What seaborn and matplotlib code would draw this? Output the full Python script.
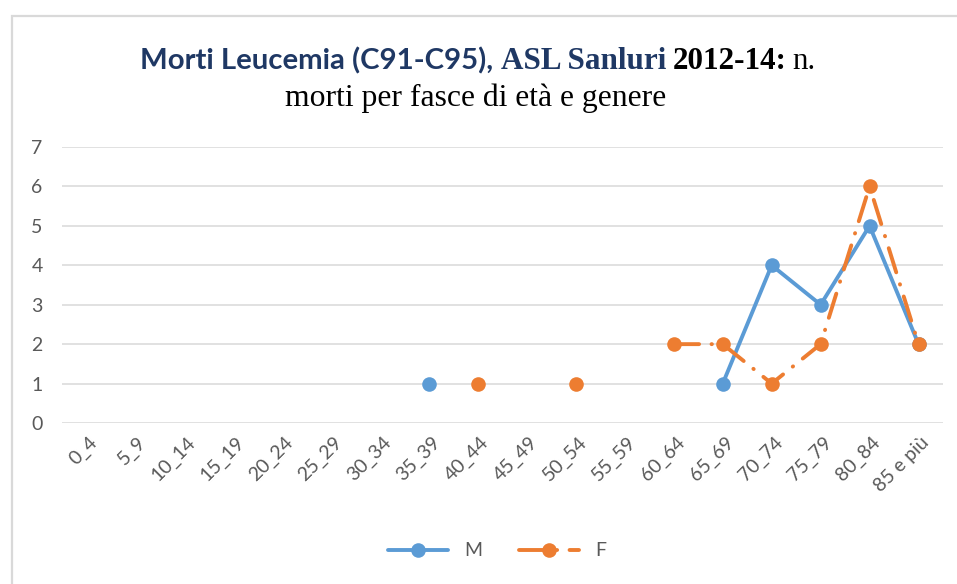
import numpy as np
import pandas as pd
import matplotlib
matplotlib.use("Agg")
import matplotlib.pyplot as plt
import matplotlib.transforms as mtransforms
from matplotlib.patches import Rectangle
import seaborn as sns

categories = ["0_4", "5_9", "10_14", "15_19", "20_24", "25_29", "30_34", "35_39",
              "40_44", "45_49", "50_54", "55_59", "60_64", "65_69", "70_74",
              "75_79", "80_84", "85 e più"]
M = [np.nan, np.nan, np.nan, np.nan, np.nan, np.nan, np.nan, 1,
     np.nan, np.nan, np.nan, np.nan, np.nan, 1, 4, 3, 5, 2]
F = [np.nan, np.nan, np.nan, np.nan, np.nan, np.nan, np.nan, np.nan,
     1, np.nan, 1, np.nan, 2, 2, 1, 2, 6, 2]
yticks = [0, 1, 2, 3, 4, 5, 6, 7]

rows = []
for name, vals in (("M", M), ("F", F)):
    seg = 0
    prev_nan = True
    for i, v in enumerate(vals):
        if np.isnan(v):
            prev_nan = True
            continue
        if prev_nan:
            seg += 1
        prev_nan = False
        rows.append({"pos": i, "val": v, "genere": name, "seg": f"{name}{seg}"})
df = pd.DataFrame(rows)

sns.set_theme(style="white")
plt.rcParams["font.family"] = ["Lato", "DejaVu Sans"]

W, H = 957, 584
fig = plt.figure(figsize=(W / 100, H / 100), dpi=100)
ax = fig.add_axes([62 / W, 1 - 423 / H, (943 - 62) / W, (423 - 147) / H])

blue = "#5B9BD5"
orange = "#ED7D31"
lw = 2.8
sns.lineplot(data=df, x="pos", y="val", hue="genere", style="genere", units="seg",
             estimator=None, palette={"M": blue, "F": orange},
             dashes={"M": "", "F": (6.5, 3.2, 0.1, 3.2)},
             markers={"M": "o", "F": "o"}, markersize=10.5, markeredgewidth=0,
             linewidth=lw, dash_capstyle="round", solid_capstyle="round",
             sort=False, ax=ax, legend=True)

ax.set_xlim(-0.5, len(categories) - 0.5)
ax.set_ylim(0, 7)
ax.set_yticks(yticks)
ax.set_xticks(range(len(categories)))
ax.set_xticklabels(categories, rotation=45, ha="right", va="center",
                   rotation_mode="anchor")
ax.set_xlabel("")
ax.set_ylabel("")
for s in ax.spines.values():
    s.set_visible(False)
ax.grid(axis="y", color="#d9d9d9", linewidth=1.1)
ax.set_axisbelow(True)
ax.tick_params(axis="both", length=0, colors="#595959", labelsize=14)
ax.tick_params(axis="y", pad=14)
ax.tick_params(axis="x", pad=12)
off = mtransforms.ScaledTranslation(8 / 100, 0, fig.dpi_scale_trans)
for lab in ax.get_xticklabels():
    lab.set_transform(lab.get_transform() + off)

handles, labels = ax.get_legend_handles_labels()
ax.legend(handles, labels, loc="center", ncol=2, frameon=False, fontsize=14,
          labelcolor="#595959", handlelength=3.1, columnspacing=1.9)
leg = ax.get_legend()
leg.set_bbox_to_anchor((497 / W, 1 - 551 / H), transform=fig.transFigure)

# border
fig.patches.append(Rectangle((12 / W, -0.1), 1.2, (H - 16) / H + 0.1, fill=False,
                             edgecolor="#d9d9d9", linewidth=1.6,
                             transform=fig.transFigure, zorder=0))

# title made of pieces
navy = "#1F3864"
serif = ["Liberation Serif", "DejaVu Serif"]
renderer = fig.canvas.get_renderer()
pieces = [
    ("Morti Leucemia (C91-C95),", dict(family=["Lato", "DejaVu Sans"], weight="bold", color=navy, size=21.2), 8),
    ("ASL Sanluri", dict(family=serif, weight="bold", color=navy, size=22.4), 6),
    ("2012-14:", dict(family=serif, weight="bold", color="black", size=22.4), 6),
    ("n.", dict(family=serif, weight="normal", color="black", size=22.4), 0),
]
texts = []
widths = []
for s, kw, gap in pieces:
    t = fig.text(0, 0, s, transform=None, ha="left", va="baseline", **kw)
    bb = t.get_window_extent(renderer)
    texts.append(t)
    widths.append(bb.width)
total = sum(widths) + sum(p[2] for p in pieces[:-1])
x = 477.5 - total / 2
ybase = H - 69
for t, w, p in zip(texts, widths, pieces):
    t.set_position((x, ybase))
    x += w + p[2]
fig.text(476 / W, 1 - 106 / H, "morti per fasce di età e genere",
         family=serif, size=22.8, color="black",
         ha="center", va="baseline")

fig.savefig("out.png", dpi=100)
